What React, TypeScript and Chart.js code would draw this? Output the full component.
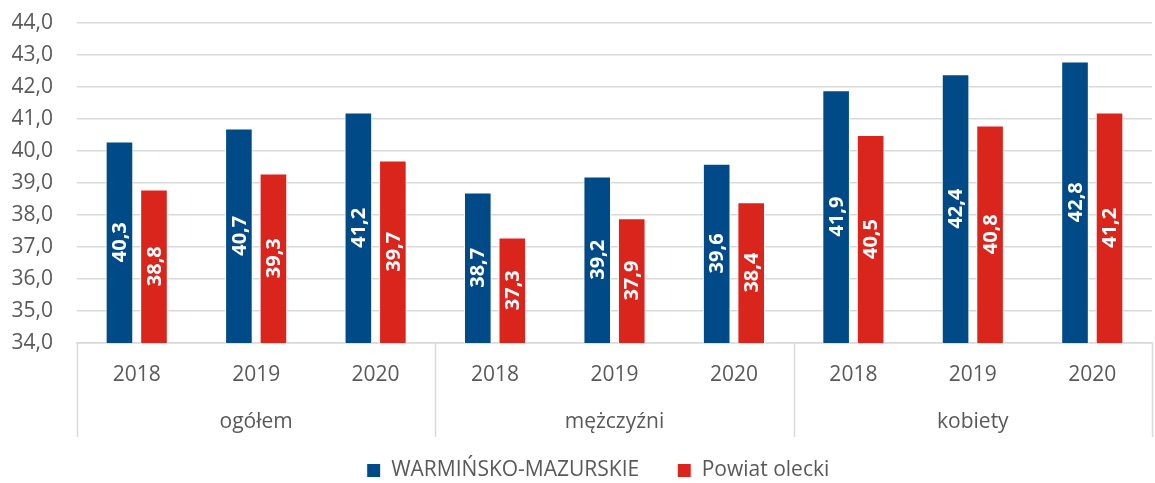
import React, { useEffect, useRef } from "react";
import { Chart, registerables } from "chart.js";

Chart.register(...registerables);

const years = ["2018", "2019", "2020", "2018", "2019", "2020", "2018", "2019", "2020"];
const groups = ["ogółem", "mężczyźni", "kobiety"];
const seriesNames = ["WARMIŃSKO-MAZURSKIE", "Powiat olecki"];
const warminskoMazurskie = [40.3, 40.7, 41.2, 38.7, 39.2, 39.6, 41.9, 42.4, 42.8];
const powiatOlecki = [38.8, 39.3, 39.7, 37.3, 37.9, 38.4, 40.5, 40.8, 41.2];

const FONT = "'Open Sans', sans-serif";
const TEXT = "#595959";
const GRID = "#d9d9d9";

const fmt = (v: number) => v.toFixed(1).replace(".", ",");

const labelPlugin = {
  id: "barLabels",
  afterDatasetsDraw(chart: any) {
    const ctx = chart.ctx;
    const yScale = chart.scales.y;
    const bottom = chart.chartArea.bottom;
    chart.data.datasets.forEach((ds: any, di: number) => {
      const meta = chart.getDatasetMeta(di);
      meta.data.forEach((el: any, i: number) => {
        const v = ds.data[i];
        const top = yScale.getPixelForValue(v);
        const cy = (top + bottom) / 2;
        ctx.save();
        ctx.translate(el.x, cy);
        ctx.rotate(-Math.PI / 2);
        ctx.fillStyle = "#ffffff";
        ctx.font = "bold 20px 'Open Sans', sans-serif";
        ctx.textAlign = "center";
        ctx.textBaseline = "middle";
        ctx.fillText(fmt(v), 0, 1);
        ctx.restore();
      });
    });
  },
};

const groupPlugin = {
  id: "groups",
  afterLayout(chart: any) {
    if (chart.legend) {
      chart.legend.left += 34;
    }
  },
  afterDraw(chart: any) {
    const ctx = chart.ctx;
    const x = chart.scales.x;
    const area = chart.chartArea;
    const bounds = [
      area.left,
      (x.getPixelForValue(2) + x.getPixelForValue(3)) / 2,
      (x.getPixelForValue(5) + x.getPixelForValue(6)) / 2,
      area.right,
    ];
    ctx.save();
    ctx.strokeStyle = GRID;
    ctx.lineWidth = 1.5;
    bounds.forEach((px) => {
      const p = Math.round(px) + 0.5;
      ctx.beginPath();
      ctx.moveTo(p, area.bottom);
      ctx.lineTo(p, area.bottom + 94);
      ctx.stroke();
    });
    ctx.fillStyle = TEXT;
    ctx.font = `21px ${FONT}`;
    ctx.textAlign = "center";
    ctx.textBaseline = "middle";
    groups.forEach((g, gi) => {
      const cx = x.getPixelForValue(gi * 3 + 1);
      ctx.fillText(g, cx, area.bottom + 79);
    });
    ctx.restore();
  },
};

export default function App() {
  const ref = useRef<HTMLCanvasElement | null>(null);

  useEffect(() => {
    if (!ref.current) return;
    const chart = new Chart(ref.current, {
      type: "bar",
      data: {
        labels: years,
        datasets: [
          {
            label: seriesNames[0],
            data: warminskoMazurskie,
            backgroundColor: "#004a87",
            borderColor: "#ffffff",
            borderWidth: 1,
            categoryPercentage: 0.578,
            barPercentage: 0.8,
          },
          {
            label: seriesNames[1],
            data: powiatOlecki,
            backgroundColor: "#da251d",
            borderColor: "#ffffff",
            borderWidth: 1,
            categoryPercentage: 0.578,
            barPercentage: 0.8,
          },
        ],
      },
      options: {
        animation: false,
        responsive: true,
        maintainAspectRatio: false,
        layout: { padding: { left: 10, right: 3, top: 0, bottom: 0 } },
        scales: {
          y: {
            min: 34,
            max: 44,
            afterFit: (s: any) => {
              s.width = 67;
              s.paddingTop = 23;
              s.paddingBottom = 10;
            },
            ticks: {
              stepSize: 1,
              padding: 24,
              color: TEXT,
              font: { family: FONT, size: 21 },
              callback: (v: any) => fmt(Number(v)),
            },
            grid: { color: GRID, lineWidth: 1.5, drawTicks: false },
            border: { display: false },
          },
          x: {
            afterFit: (s: any) => {
              s.height = 79;
            },
            ticks: {
              color: TEXT,
              font: { family: FONT, size: 21 },
              padding: 19,
              maxRotation: 0,
            },
            grid: { display: false, drawTicks: false },
            border: { display: true, color: GRID, width: 1.5 },
          },
        },
        plugins: {
          legend: {
            position: "bottom",
            maxHeight: 61,
            labels: {
              color: TEXT,
              font: { family: FONT, size: 21 },
              boxWidth: 14,
              boxHeight: 14,
              padding: 38,
            },
          },
          tooltip: { enabled: false },
        },
      },
      plugins: [labelPlugin, groupPlugin],
    });
    return () => chart.destroy();
  }, []);

  return (
    <div style={{ position: "absolute", left: 0, top: 0, width: 1155, height: 483, background: "#fff" }}>
      <canvas ref={ref} />
    </div>
  );
}
